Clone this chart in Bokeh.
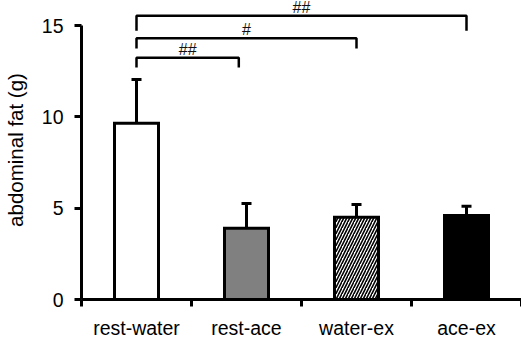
from bokeh.plotting import figure
from bokeh.models import (Range1d, FixedTicker, Whisker, TeeHead, ColumnDataSource)
from bokeh.core.properties import value
from bokeh.embed import file_html
from bokeh.resources import INLINE

# ---- data ----
categories = ["rest-water", "rest-ace", "water-ex", "ace-ex"]
means = [9.65, 3.9, 4.5, 4.6]
errors = [2.4, 1.35, 0.7, 0.5]
fill_colors = ["white", "#808080", "white", "black"]
hatches = [" ", " ", "/", " "]
y_ticks = [0, 5, 10, 15]

bracket_from = ["rest-water", "rest-water", "rest-water"]
bracket_to = ["rest-ace", "water-ex", "ace-ex"]
bracket_labels = ["##", "#", "##"]
bracket_y = [13.23, 14.3, 15.53]
bracket_drop = [0.53, 0.56, 0.81]
bracket_end_shift = [-0.07, 0.0, 0.0]

FONT = "Liberation Sans"

xpos = list(range(len(categories)))
src = ColumnDataSource(dict(
    x=xpos,
    mean=means,
    upper=[m + e for m, e in zip(means, errors)],
    color=fill_colors,
    hatch=hatches,
))

p = figure(x_range=Range1d(-0.5, len(categories) - 0.5), y_range=Range1d(0, 16.37),
           frame_width=440, frame_height=299,
           min_border_left=81, min_border_right=0, min_border_top=0, min_border_bottom=38,
           output_backend="svg", toolbar_location=None)
p.outline_line_color = None
p.grid.visible = False
p.background_fill_color = "white"
p.border_fill_color = "white"

# bars
p.vbar(x="x", top="mean", width=0.4, source=src, fill_color="color",
       line_color="black", line_width=3, line_join="miter",
       hatch_pattern="hatch", hatch_color="black", hatch_scale=6, hatch_weight=1.6)

# error bars (upper only)
w = Whisker(source=src, base="x", upper="upper", lower="mean",
            line_color="black", line_width=3,
            upper_head=TeeHead(size=10, line_width=3, line_color="black"),
            lower_head=None, level="overlay")
p.add_layout(w)

# significance brackets
xs, ys, mids = [], [], []
for f, t, y, d, s in zip(bracket_from, bracket_to, bracket_y, bracket_drop, bracket_end_shift):
    x0 = categories.index(f)
    x1 = categories.index(t) + s
    xs.append([x0, x0, x1, x1])
    ys.append([y - d, y, y, y - d])
    mids.append((x0 + x1) / 2)
p.multi_line(xs=xs, ys=ys, line_color="black", line_width=2.5)
p.text(x=mids, y=bracket_y, text=bracket_labels,
       text_align="center", text_baseline="bottom",
       text_font=value(FONT), text_font_size="16px", text_color="#111111")

# x axis: labels at centres, ticks at category boundaries
xaxis = p.xaxis[0]
xaxis.ticker = FixedTicker(ticks=xpos,
                           minor_ticks=[i - 0.5 for i in range(len(categories) + 1)])
xaxis.major_label_overrides = {i: c for i, c in enumerate(categories)}
xaxis.axis_line_width = 3
xaxis.axis_line_color = "black"
xaxis.major_tick_line_color = None
xaxis.major_tick_out = 0
xaxis.major_tick_in = 0
xaxis.minor_tick_line_color = "black"
xaxis.minor_tick_line_width = 3
xaxis.minor_tick_out = 7
xaxis.minor_tick_in = 0
xaxis.major_label_standoff = 10
xaxis.major_label_text_font = FONT
xaxis.major_label_text_font_size = "19.5px"
xaxis.major_label_text_color = "black"

# y axis
ya = p.yaxis[0]
ya.ticker = FixedTicker(ticks=y_ticks, minor_ticks=[])
ya.bounds = (0, 15)
ya.axis_line_width = 3
ya.axis_line_color = "black"
ya.major_tick_line_width = 3
ya.major_tick_line_color = "black"
ya.major_tick_out = 7
ya.major_tick_in = 0
ya.minor_tick_line_color = None
ya.major_label_standoff = 11
ya.major_label_text_font = FONT
ya.major_label_text_font_size = "19.5px"
ya.major_label_text_color = "black"
ya.axis_label = "abdominal fat (g)"
ya.axis_label_text_font = FONT
ya.axis_label_text_font_style = "normal"
ya.axis_label_text_font_size = "20.5px"
ya.axis_label_text_color = "black"
ya.axis_label_standoff = 12

open("out.html", "w").write(file_html(p, INLINE))
